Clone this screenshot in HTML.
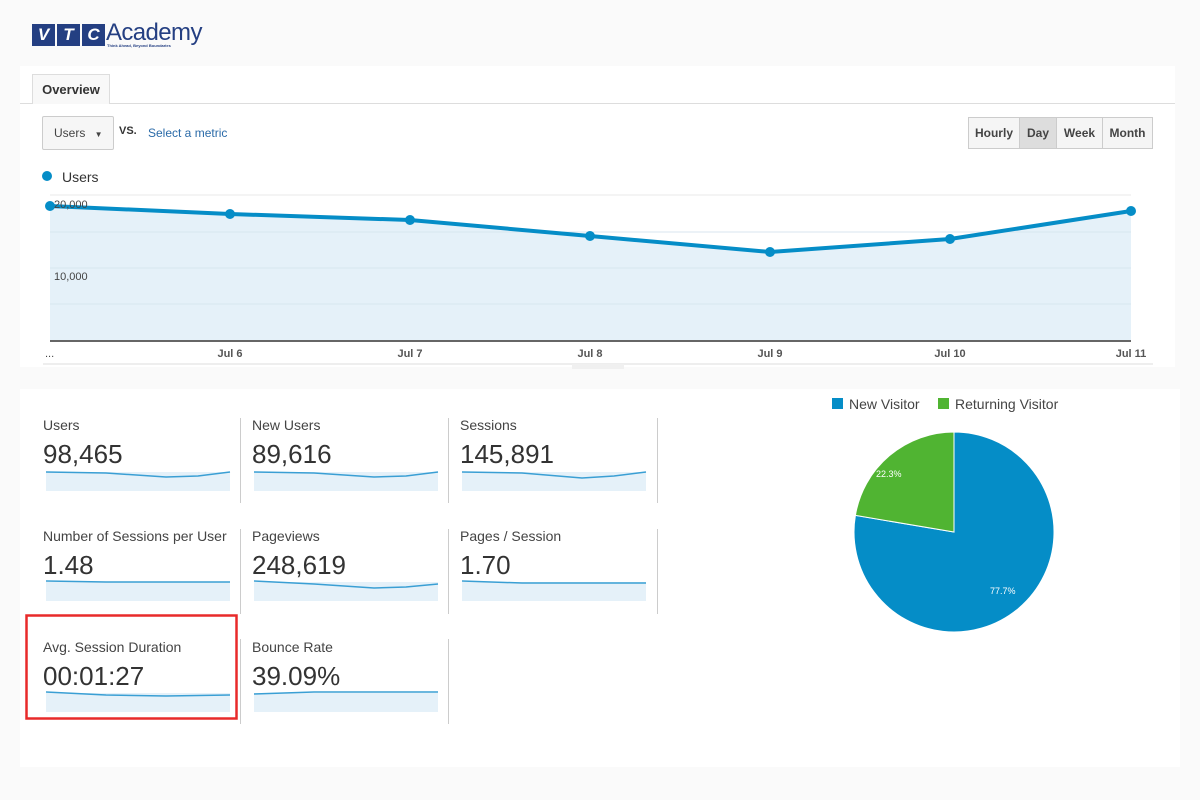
<!DOCTYPE html>
<html><head><meta charset="utf-8"><style>
*{margin:0;padding:0;box-sizing:border-box}
body{width:1200px;height:800px;background:#fafafa;position:relative;font-family:"Liberation Sans",Arial,sans-serif;overflow:hidden;color:#333}
.a{position:absolute}
.lbl{font-size:14px;color:#444;position:absolute}
.val{font-size:26px;color:#333;position:absolute}
.sep{position:absolute;width:1px;background:#ccc}
.btn{position:absolute;top:117px;height:32px;border:1px solid #ccc;background:#f5f5f5;font-size:12px;font-weight:bold;color:#444;line-height:30px;text-align:center}
</style></head><body>
<div class="a" style="left:32px;top:24px;width:23px;height:22px;background:#243f82;color:#fff;font-weight:bold;font-style:italic;font-size:17px;text-align:center;line-height:22px">V</div>
<div class="a" style="left:57px;top:24px;width:23px;height:22px;background:#243f82;color:#fff;font-weight:bold;font-style:italic;font-size:17px;text-align:center;line-height:22px">T</div>
<div class="a" style="left:82px;top:24px;width:23px;height:22px;background:#243f82;color:#fff;font-weight:bold;font-style:italic;font-size:17px;text-align:center;line-height:22px">C</div>
<div class="a" style="left:106px;top:19px;font-size:24px;color:#243f82;letter-spacing:-0.6px">Academy</div>
<div class="a" style="left:107px;top:43px;font-size:4px;color:#243f82;font-weight:bold">Think Ahead, Beyond Boundaries</div>

<div class="a" style="left:20px;top:66px;width:1155px;height:301px;background:#fff"></div>
<div class="a" style="left:20px;top:103px;width:1155px;height:1px;background:#ddd"></div>
<div class="a" style="left:32px;top:74px;width:78px;height:30px;background:#f8f8f8;border:1px solid #ddd;border-bottom:none;font-size:13px;font-weight:bold;color:#333;line-height:30px;text-align:center">Overview</div>
<div class="a" style="left:42px;top:116px;width:72px;height:34px;border:1px solid #ccc;border-radius:2px;background:#f6f6f6;font-size:12px;color:#444;line-height:32px;padding-left:11px">Users <span style="font-size:8px;margin-left:6px">▼</span></div>
<div class="a" style="left:119px;top:125px;font-size:11px;font-weight:bold;color:#333">VS.</div>
<div class="a" style="left:148px;top:126px;font-size:12px;color:#2a6aa8">Select a metric</div>
<div class="btn" style="left:968px;width:52px">Hourly</div>
<div class="btn" style="left:1019px;width:38px;background:#ddd">Day</div>
<div class="btn" style="left:1056px;width:47px">Week</div>
<div class="btn" style="left:1102px;width:51px">Month</div>
<div class="a" style="left:42px;top:171px;width:10px;height:10px;border-radius:50%;background:#058dc7"></div>
<div class="a" style="left:62px;top:169px;font-size:14px;color:#333">Users</div>
<svg class="a" style="left:0;top:0" width="1200" height="380">
<polygon points="50,206 230,214 410,220 590,236 770,252 950,239 1131,211 1131,340 50,340" fill="#e5f1f9"/>
<g stroke="#d8e6ef" stroke-width="1"><line x1="50" y1="195" x2="1131" y2="195" stroke="#eaeaea"/><line x1="50" y1="232" x2="1131" y2="232"/><line x1="50" y1="268" x2="1131" y2="268"/><line x1="50" y1="304" x2="1131" y2="304"/></g>
<polyline points="50,206 230,214 410,220 590,236 770,252 950,239 1131,211" fill="none" stroke="#058dc7" stroke-width="4"/>
<g fill="#058dc7"><circle cx="50" cy="206" r="5"/><circle cx="230" cy="214" r="5"/><circle cx="410" cy="220" r="5"/><circle cx="590" cy="236" r="5"/><circle cx="770" cy="252" r="5"/><circle cx="950" cy="239" r="5"/><circle cx="1131" cy="211" r="5"/></g>
<line x1="50" y1="341" x2="1131" y2="341" stroke="#333" stroke-width="1.5"/>
<line x1="43" y1="364" x2="1153" y2="364" stroke="#ddd"/>
<rect x="572" y="364" width="52" height="5" fill="#f0f0f0"/>
<g font-size="11" fill="#444" font-family="Liberation Sans,sans-serif">
<text x="54" y="208">20,000</text><text x="54" y="280">10,000</text>
<text x="45" y="357">...</text>
<text x="230" y="357" text-anchor="middle" font-weight="bold" fill="#555">Jul 6</text>
<text x="410" y="357" text-anchor="middle" font-weight="bold" fill="#555">Jul 7</text>
<text x="590" y="357" text-anchor="middle" font-weight="bold" fill="#555">Jul 8</text>
<text x="770" y="357" text-anchor="middle" font-weight="bold" fill="#555">Jul 9</text>
<text x="950" y="357" text-anchor="middle" font-weight="bold" fill="#555">Jul 10</text>
<text x="1131" y="357" text-anchor="middle" font-weight="bold" fill="#555">Jul 11</text>
</g></svg>

<div class="a" style="left:20px;top:389px;width:1160px;height:378px;background:#fff"></div>
<div class="lbl" style="left:43px;top:417px">Users</div><div class="val" style="left:43px;top:439px">98,465</div>
<div class="lbl" style="left:252px;top:417px">New Users</div><div class="val" style="left:252px;top:439px">89,616</div>
<div class="lbl" style="left:460px;top:417px">Sessions</div><div class="val" style="left:460px;top:439px">145,891</div>
<div class="lbl" style="left:43px;top:528px">Number of Sessions per User</div><div class="val" style="left:43px;top:550px">1.48</div>
<div class="lbl" style="left:252px;top:528px">Pageviews</div><div class="val" style="left:252px;top:550px">248,619</div>
<div class="lbl" style="left:460px;top:528px">Pages / Session</div><div class="val" style="left:460px;top:550px">1.70</div>
<div class="lbl" style="left:43px;top:639px">Avg. Session Duration</div><div class="val" style="left:43px;top:661px">00:01:27</div>
<div class="lbl" style="left:252px;top:639px">Bounce Rate</div><div class="val" style="left:252px;top:661px">39.09%</div>
<div class="sep" style="left:240px;top:418px;height:85px"></div><div class="sep" style="left:448px;top:418px;height:85px"></div><div class="sep" style="left:657px;top:418px;height:85px"></div>
<div class="sep" style="left:240px;top:529px;height:85px"></div><div class="sep" style="left:448px;top:529px;height:85px"></div><div class="sep" style="left:657px;top:529px;height:85px"></div>
<div class="sep" style="left:240px;top:639px;height:85px"></div><div class="sep" style="left:448px;top:639px;height:85px"></div>
<svg class="a" style="left:0;top:0" width="1200" height="800">
<g fill="#e5f1f9" stroke="none">
<rect x="46" y="472" width="184" height="19"/><rect x="254" y="472" width="184" height="19"/><rect x="462" y="472" width="184" height="19"/>
<rect x="46" y="582" width="184" height="19"/><rect x="254" y="582" width="184" height="19"/><rect x="462" y="582" width="184" height="19"/>
<rect x="46" y="693" width="184" height="19"/><rect x="254" y="693" width="184" height="19"/>
</g>
<g fill="none" stroke="#3a9fd4" stroke-width="1.5">
<polyline points="46,472 106,473 166,477 198,476 230,472"/>
<polyline points="254,472 314,473 374,477 406,476 438,472"/>
<polyline points="462,472 522,473 582,478 614,476 646,472"/>
<polyline points="46,581 106,582 166,582 230,582"/>
<polyline points="254,581 314,584 374,588 406,587 438,584"/>
<polyline points="462,581 522,583 582,583 646,583"/>
<polyline points="46,692 106,695 166,696 230,695"/>
<polyline points="254,694 314,692 374,692 438,692"/>
</g>
<rect x="26.5" y="615.5" width="210" height="103" fill="none" stroke="#e82a2a" stroke-width="2.5"/>
<rect x="832" y="398" width="11" height="11" fill="#058dc7"/>
<rect x="938" y="398" width="11" height="11" fill="#50b432"/>
<g font-size="14" fill="#444" font-family="Liberation Sans,sans-serif"><text x="849" y="409">New Visitor</text><text x="955" y="409">Returning Visitor</text></g>
<path d="M954,532 L954,432 A100,100 0 1 1 855.4,515.4 Z" fill="#058dc7" stroke="#fff" stroke-width="1"/>
<path d="M954,532 L855.4,515.4 A100,100 0 0 1 954,432 Z" fill="#50b432" stroke="#fff" stroke-width="1"/>
<g font-size="9" fill="#fff" font-family="Liberation Sans,sans-serif"><text x="876" y="477">22.3%</text><text x="990" y="594">77.7%</text></g>
</svg>
</body></html>
